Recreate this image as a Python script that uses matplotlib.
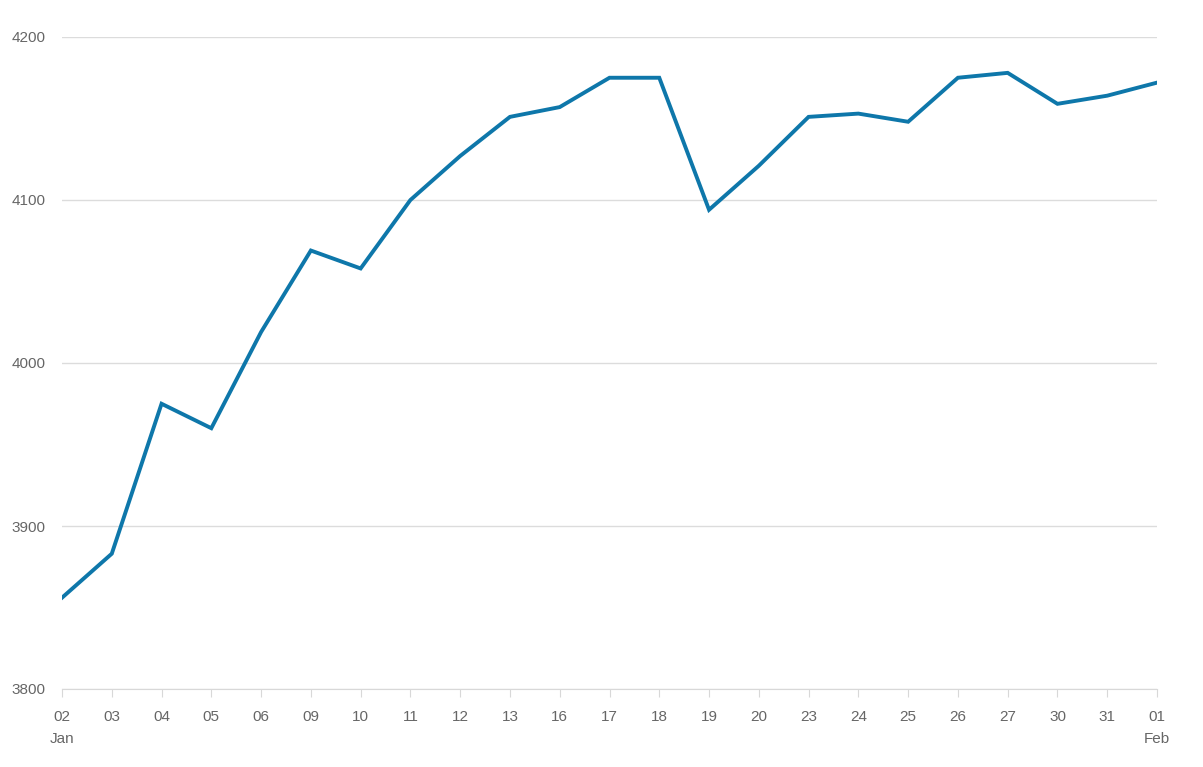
import matplotlib.pyplot as plt
import numpy as np

plt.rcParams['font.family'] = ['Liberation Sans', 'DejaVu Sans']

days = ['02', '03', '04', '05', '06', '09', '10', '11', '12', '13', '16', '17',
        '18', '19', '20', '23', '24', '25', '26', '27', '30', '31', '01']
values = [3856, 3883, 3975, 3960, 4019, 4069, 4058, 4100, 4127, 4151, 4157, 4175,
          4175, 4094, 4121, 4151, 4153, 4148, 4175, 4178, 4159, 4164, 4172]
y_ticks = [3800, 3900, 4000, 4100, 4200]
month_labels = {0: 'Jan', 22: 'Feb'}

fig = plt.figure(figsize=(12.03, 7.67), dpi=100)
ax = fig.add_axes([62/1203, 78/767, (1157-62)/1203, (689-37)/767])

x = np.arange(len(days))
ax.plot(x, values, color='#0e77aa', linewidth=2.8, solid_joinstyle='miter')

ax.set_xlim(0, len(days) - 1)
ax.set_ylim(3800, 4200)
ax.set_yticks(y_ticks)
ax.set_yticklabels([str(v) for v in y_ticks])
ax.yaxis.grid(True, color='#dcdcdc', linewidth=1)
ax.set_axisbelow(True)

labels = [d + ('\n' + month_labels[i] if i in month_labels else '') for i, d in enumerate(days)]
ax.set_xticks(x)
ax.set_xticklabels(labels, linespacing=1.75, va='top')

for s in ['top', 'right', 'left']:
    ax.spines[s].set_visible(False)
ax.spines['bottom'].set_color('#d8d8d8')
ax.tick_params(axis='y', length=0, pad=12, labelsize=11, labelcolor='#666666')
ax.tick_params(axis='x', length=6, color='#d8d8d8', pad=9, labelsize=11, labelcolor='#666666')

fig.savefig('out.png', dpi=100, facecolor='white')
